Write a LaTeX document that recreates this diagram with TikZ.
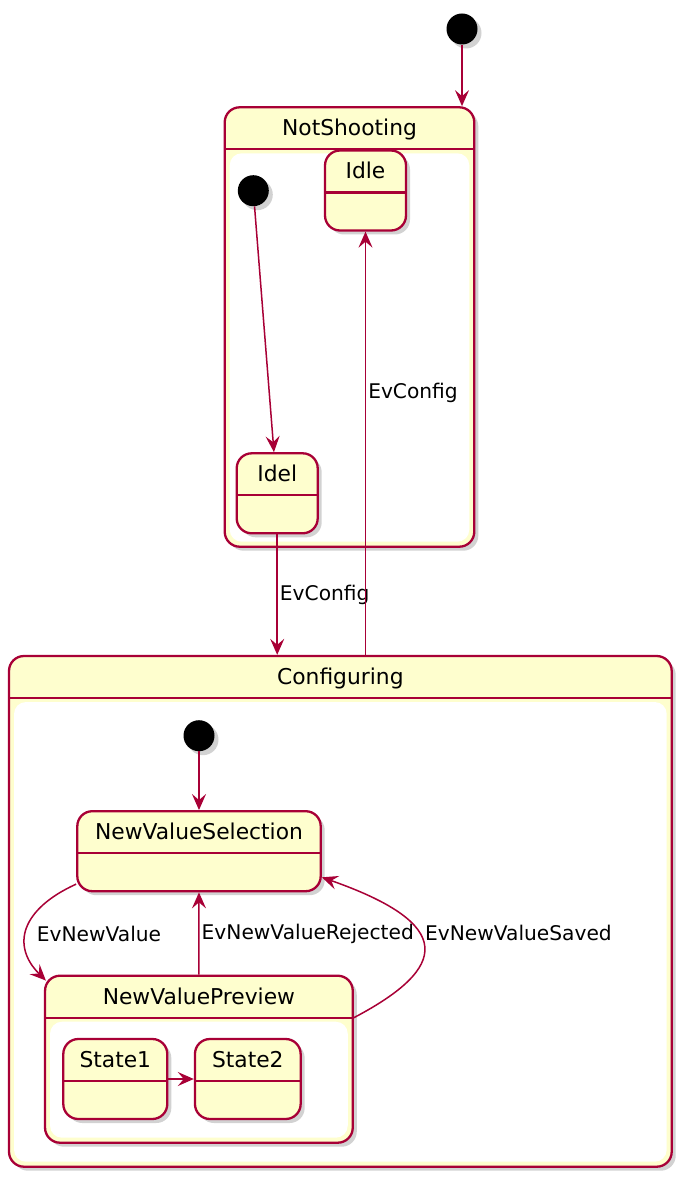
\documentclass[tikz,border=0pt]{standalone}
\usepackage{fontspec}
\setmainfont{DejaVu Sans}
\usetikzlibrary{arrows.meta,shadows}

\definecolor{umlborder}{HTML}{A80036}
\definecolor{umlfill}{HTML}{FEFECE}

\tikzset{
  stbox/.style={draw=umlborder, fill=umlfill, line width=2.3pt, rounded corners=15pt,
    inner xsep=8pt, inner ysep=0pt, text height=28.5pt, text depth=51.5pt,
    font=\fontsize{21.8}{26}\selectfont,
    drop shadow={shadow xshift=4pt, shadow yshift=-4pt, opacity=0.35},
    path picture={
      \draw[umlborder, line width=2.3pt] ([yshift=-42pt]path picture bounding box.north west)
        -- ([yshift=-42pt]path picture bounding box.north east);}},
  cmpbox/.style={stbox, text depth=#1,
    path picture={
      \fill[white, rounded corners=12pt] ([shift={(5pt,-46pt)}]path picture bounding box.north west)
        rectangle ([shift={(-5pt,5pt)}]path picture bounding box.south east);
      \draw[umlborder, line width=2.3pt] ([yshift=-42pt]path picture bounding box.north west)
        -- ([yshift=-42pt]path picture bounding box.north east);}},
  init/.style={circle, fill=black, minimum size=31pt, inner sep=0pt,
    drop shadow={shadow xshift=4pt, shadow yshift=-4pt, opacity=0.35}},
  evlabel/.style={font=\fontsize{20.2}{24}\selectfont, inner sep=2pt, text=black}
}

\begin{document}
\begin{tikzpicture}[
            x = 1pt, y = -1pt, % pixel grid, y pointing down
            > = {Stealth[length=16pt, width=14pt, inset=6pt]}, % arrow head style
            flow/.style = {->, draw=umlborder, line width=1.5pt} % transition line
        ]

	\fill[white] (0,0) rectangle (688,1182);
	\useasboundingbox (0,0) rectangle (688,1182);

	% outer level
	\node[init] (start) at (462,29) {};
	\node[cmpbox=410.9pt, minimum width=249.6pt] (notshooting) at (349.5,327) {NotShooting};
	\node[init] (nsstart) at (253.3,190.7) {};
	\node[stbox, minimum width=81pt] (idle) at (365.5,190.5) {Idle};
	\node[stbox, minimum width=81pt] (idel) at (277.2,493.3) {Idel};

	% configuring
	\node[cmpbox=482.2pt, minimum width=662.7pt] (configuring) at (340.35,911.35) {Configuring};
	\node[init] (confstart) at (199,735.7) {};
	\node[stbox, minimum width=243.4pt] (nvsel) at (199,851.2) {NewValueSelection};
	\node[cmpbox=138.5pt, minimum width=307.7pt] (nvprev) at (198.9,1059.2) {NewValuePreview};
	\node[stbox, minimum width=104pt] (state1) at (115.3,1079) {State1};
	\node[stbox, minimum width=105.7pt, right of=state1, node distance=132.5pt] (state2) {State2};

	\draw[flow] (start) -- (start |- notshooting.north);
	\draw[flow] (nsstart) -- (idel);
	\draw[flow] (idel) -- node[evlabel, right] {EvConfig} (idel |- configuring.north);
	\draw[flow] (configuring.north -| idle) -- node[evlabel, pos=0.62, right] {EvConfig} (idle);

	\draw[flow] (confstart) -- (nvsel);
	\draw[flow] (nvsel.195) .. controls +(-55,25) and +(-35,-35) .. ([shift={(2pt,-6pt)}]nvprev.north west)
		node[evlabel, pos=0.55, right=8pt] {EvNewValue};
	\draw[flow] (nvprev) -- node[evlabel, right] {EvNewValueRejected} (nvsel);
	\draw[flow] (nvprev.15) .. controls +(95,-50) and +(134,47) .. (nvsel.-12)
		node[evlabel, pos=0.6, right=4pt] {EvNewValueSaved};
	\draw[flow] (state1) -- (state2);

\end{tikzpicture}
\end{document}
